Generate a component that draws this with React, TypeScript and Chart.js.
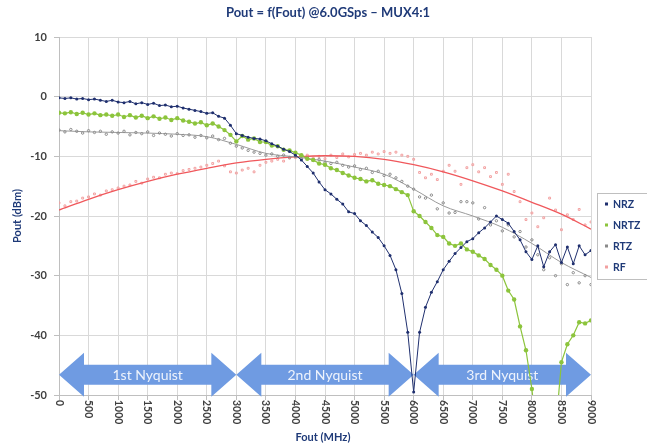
import React, { useEffect, useRef } from "react";
import { Chart, registerables } from "chart.js";

Chart.register(...registerables);

const TITLE = "Pout = f(Fout) @6.0GSps \u2013 MUX4:1";
const X_TITLE = "Fout (MHz)";
const Y_TITLE = "Pout (dBm)";
const SERIES_NAMES = ["NRZ", "NRTZ", "RTZ", "RF"];

const FREQ = [
  0, 100, 200, 300, 400, 500, 600, 700, 800, 900,
  1000, 1100, 1200, 1300, 1400, 1500, 1600, 1700, 1800, 1900,
  2000, 2100, 2200, 2300, 2400, 2500, 2600, 2700, 2800, 2900,
  3000, 3100, 3200, 3300, 3400, 3500, 3600, 3700, 3800, 3900,
  4000, 4100, 4200, 4300, 4400, 4500, 4600, 4700, 4800, 4900,
  5000, 5100, 5200, 5300, 5400, 5500, 5600, 5700, 5800, 5900,
  6000, 6100, 6200, 6300, 6400, 6500, 6600, 6700, 6800, 6900,
  7000, 7100, 7200, 7300, 7400, 7500, 7600, 7700, 7800, 7900,
  8000, 8100, 8200, 8300, 8400, 8500, 8600, 8700, 8800, 8900, 9000,
];

const NRZ = [
  -0.2, -0.3, -0.2, -0.4, -0.3, -0.5, -0.4, -0.6, -0.8, -0.6,
  -0.9, -1.0, -0.8, -1.2, -1.0, -1.3, -1.1, -1.5, -1.4, -1.7,
  -1.6, -1.9, -2.1, -2.3, -2.5, -2.8, -2.7, -3.3, -3.6, -4.8,
  -6.2, -6.5, -6.8, -7.0, -7.1, -7.4, -7.9, -8.3, -8.8, -9.2,
  -9.8, -10.6, -11.7, -12.8, -14.3, -15.6, -16.3, -17.2, -18.0, -19.3,
  -19.6, -20.8, -21.6, -22.7, -23.6, -25.0, -26.6, -29.0, -33.0, -39.5,
  -49.5, -39.5, -35.3, -32.8, -31.0, -29.0, -27.6, -26.3, -25.3, -24.3,
  -23.8, -22.8, -22.0, -21.0, -20.0, -20.6, -21.2, -22.6, -24.0, -26.0,
  -27.3, -25.0, -28.5, -26.0, -24.8, -27.8, -25.2, -28.0, -25.0, -26.5, -25.8,
];

const NRTZ = [
  -2.7, -2.8, -2.6, -2.9, -2.7, -3.0, -2.8, -3.1, -3.0, -3.2,
  -3.0, -3.4, -3.1, -3.5, -3.2, -3.6, -3.3, -3.7, -3.5, -3.9,
  -3.6, -4.0, -4.2, -4.5, -4.3, -4.8, -4.5, -5.0, -5.6, -6.4,
  -7.5, -6.6, -7.2, -7.0, -7.6, -7.6, -8.2, -8.3, -8.9, -9.0,
  -9.4, -9.8, -10.4, -10.6, -11.2, -11.4, -12.0, -12.3, -12.8, -13.2,
  -13.6, -13.8, -14.2, -14.0, -14.6, -14.8, -15.0, -15.5, -16.0, -16.5,
  -19.2, -20.0, -21.0, -22.0, -23.2, -23.5, -24.6, -25.0, -24.6, -25.6,
  -26.0, -26.6, -27.2, -28.2, -29.0, -30.0, -32.5, -34.0, -38.5, -42.5,
  -49.0, -58.0, -65.0, -65.0, -56.0, -44.5, -41.5, -40.0, -37.8, -38.0, -37.5,
];

const RTZ = [
  -5.6, -5.9, -5.5, -5.8, -6.1, -5.7, -6.0, -5.8, -6.3, -5.9,
  -6.1, -5.8, -6.4, -6.0, -6.2, -5.9, -6.5, -6.1, -6.3, -6.6,
  -6.2, -6.5, -6.4, -6.8, -6.5, -6.9, -6.6, -7.2, -7.0, -7.8,
  -8.3, -8.6, -9.0, -9.3, -9.5, -9.8, -9.6, -10.0, -9.8, -10.2,
  -10.0, -10.4, -10.3, -10.7, -10.5, -11.0, -11.2, -11.0, -11.5, -11.8,
  -11.6, -12.2, -12.0, -12.7, -12.5, -13.2, -13.0, -13.6, -14.2, -15.0,
  -15.5, -16.8, -17.0, -16.5, -18.8, -17.8, -19.5, -19.4, -17.6, -17.6,
  -17.8, -20.5, -18.6, -21.5, -20.8, -22.5, -21.5, -23.5, -22.6, -25.2,
  -24.0, -26.5, -29.0, -27.0, -30.0, -28.0, -31.5, -29.5, -31.2, -30.0, -31.5,
];

const RF = [
  -17.8, -18.3, -17.6, -17.5, -17.0, -16.8, -16.3, -16.5, -15.8, -15.6,
  -15.3, -15.0, -14.8, -14.2, -14.5, -13.8, -13.5, -13.6, -13.0, -12.8,
  -12.9, -12.4, -12.2, -12.0, -11.8, -11.5, -11.2, -10.8, -11.6, -12.6,
  -12.8, -12.3, -12.0, -12.6, -11.5, -11.0, -10.8, -10.5, -10.8, -10.3,
  -10.2, -10.0, -9.8, -10.3, -10.0, -10.4, -9.8, -10.2, -9.6, -10.1,
  -9.7, -9.5, -9.8, -9.3, -9.6, -9.2, -9.5, -9.3, -9.8, -10.0,
  -10.5, -12.7, -13.6, -13.0, -13.9, -12.5, -11.5, -12.5, -14.7, -11.9,
  -11.4, -12.6, -11.9, -13.4, -12.7, -14.7, -13.0, -15.9, -17.6, -20.6,
  -19.5, -21.8, -20.3, -17.0, -19.0, -22.3, -19.8, -20.6, -18.9, -21.5, -21.0,
];

const TREND_FREQ = [
  0, 500, 1000, 1500, 2000, 2500, 3000, 3500, 4000, 4500,
  5000, 5500, 6000, 6500, 7000, 7500, 8000, 8500, 9000,
];
const RTZ_TREND = [
  -5.7, -5.9, -6.0, -6.1, -6.3, -6.7, -8.0, -9.5, -10.1, -10.8,
  -11.8, -13.0, -15.5, -18.3, -20.0, -21.9, -24.6, -27.8, -30.3,
];
const RF_TREND = [
  -19.0, -17.2, -15.6, -14.2, -13.0, -12.0, -11.1, -10.5, -10.1, -9.9,
  -10.0, -10.5, -11.4, -12.6, -14.1, -15.8, -17.7, -19.7, -22.2,
];

const NYQUIST_BOUNDS = [0, 3000, 6000, 9000];
const NYQUIST_LABELS = ["1st Nyquist", "2nd Nyquist", "3rd Nyquist"];
const ARROW_LEVEL = -46.6;

const X_MIN = 0;
const X_MAX = 9000;
const X_STEP = 500;
const Y_MIN = -50;
const Y_MAX = 10;
const Y_STEP = 10;

const C_NRZ = "#1F2F6E";
const C_NRTZ = "#8CC43C";
const C_RTZ = "#8A8A8A";
const C_RF_PT = "#F2A0A0";
const C_RF_LINE = "#F0585C";
const C_NAVY = "#1F3A78";
const C_TICK = "#3F3F3F";
const C_ARROW = "#6F9BE2";
const FONT = "Lato, 'Open Sans', sans-serif";

const toXY = (xs: number[], ys: number[]) => xs.map((x, i) => ({ x, y: ys[i] }));

const overlay = {
  id: "overlay",
  beforeDatasetsDraw(chart: any) {
    const ctx = chart.ctx;
    const xs = chart.scales.x;
    const ys = chart.scales.y;
    const yc = ys.getPixelForValue(ARROW_LEVEL);
    const bodyH = 10;
    const headH = 22;
    const headL = 25;
    ctx.save();
    for (let i = 0; i < NYQUIST_LABELS.length; i++) {
      const x1 = xs.getPixelForValue(NYQUIST_BOUNDS[i]);
      const x2 = xs.getPixelForValue(NYQUIST_BOUNDS[i + 1]);
      ctx.beginPath();
      ctx.moveTo(x1, yc);
      ctx.lineTo(x1 + headL, yc - headH);
      ctx.lineTo(x1 + headL, yc - bodyH);
      ctx.lineTo(x2 - headL, yc - bodyH);
      ctx.lineTo(x2 - headL, yc - headH);
      ctx.lineTo(x2, yc);
      ctx.lineTo(x2 - headL, yc + headH);
      ctx.lineTo(x2 - headL, yc + bodyH);
      ctx.lineTo(x1 + headL, yc + bodyH);
      ctx.lineTo(x1 + headL, yc + headH);
      ctx.closePath();
      ctx.fillStyle = C_ARROW;
      ctx.fill();
      ctx.fillStyle = "#EEF3FC";
      ctx.font = `14px ${FONT}`;
      ctx.textAlign = "center";
      ctx.textBaseline = "middle";
      ctx.fillText(NYQUIST_LABELS[i], (x1 + x2) / 2, yc + 1);
    }
    ctx.restore();
  },
  afterDraw(chart: any) {
    const ctx = chart.ctx;
    const xs = chart.scales.x;
    const area = chart.chartArea;
    ctx.save();
    ctx.fillStyle = C_NAVY;
    ctx.font = `bold 13px ${FONT}`;
    ctx.textAlign = "center";
    ctx.textBaseline = "middle";
    ctx.fillText(TITLE, 328, 13);
    ctx.font = `bold 11px ${FONT}`;
    ctx.fillText(X_TITLE, (area.left + area.right) / 2 - 2, 437);
    ctx.save();
    ctx.translate(17, (area.top + area.bottom) / 2);
    ctx.rotate(-Math.PI / 2);
    ctx.fillText(Y_TITLE, 0, 0);
    ctx.restore();
    ctx.fillStyle = C_TICK;
    ctx.font = `bold 10.5px ${FONT}`;
    ctx.textAlign = "left";
    ctx.textBaseline = "middle";
    for (const t of xs.ticks) {
      const px = xs.getPixelForValue(t.value);
      ctx.save();
      ctx.translate(px, area.bottom + 5);
      ctx.rotate(Math.PI / 2);
      ctx.fillText(String(t.value), 0, 0);
      ctx.restore();
    }
    const lx = 597;
    const ly = 193;
    ctx.strokeStyle = "#BFBFBF";
    ctx.lineWidth = 1;
    ctx.strokeRect(lx + 0.5, ly + 0.5, 60, 86);
    const colors = [C_NRZ, C_NRTZ, C_RTZ, C_RF_PT];
    const rows = [204, 225, 246, 267];
    ctx.font = `bold 10.5px ${FONT}`;
    ctx.textAlign = "left";
    ctx.textBaseline = "middle";
    for (let i = 0; i < SERIES_NAMES.length; i++) {
      ctx.fillStyle = colors[i];
      ctx.fillRect(lx + 8, rows[i] - 1.5, 3, 3);
      ctx.fillStyle = C_NAVY;
      ctx.fillText(SERIES_NAMES[i], lx + 16, rows[i] + 0.5);
    }
    ctx.restore();
  },
};

export default function App() {
  const ref = useRef<HTMLCanvasElement | null>(null);
  useEffect(() => {
    if (!ref.current) return;
    const chart = new Chart(ref.current, {
      type: "scatter",
      data: {
        datasets: [
          {
            label: "RF trend",
            data: toXY(TREND_FREQ, RF_TREND),
            showLine: true,
            borderColor: C_RF_LINE,
            borderWidth: 1.3,
            pointRadius: 0,
            cubicInterpolationMode: "monotone",
            order: 5,
          },
          {
            label: "RF",
            data: toXY(FREQ, RF),
            showLine: false,
            pointRadius: 1.3,
            pointStyle: "rect",
            backgroundColor: "rgba(255,255,255,0)",
            borderColor: C_RF_PT,
            borderWidth: 1,
            order: 6,
          },
          {
            label: "RTZ trend",
            data: toXY(TREND_FREQ, RTZ_TREND),
            showLine: true,
            borderColor: "#9A9A9A",
            borderWidth: 1,
            pointRadius: 0,
            cubicInterpolationMode: "monotone",
            order: 4,
          },
          {
            label: "RTZ",
            data: toXY(FREQ, RTZ),
            showLine: false,
            pointRadius: 1.2,
            backgroundColor: "rgba(255,255,255,0)",
            borderColor: C_RTZ,
            borderWidth: 1,
            order: 3,
          },
          {
            label: "NRTZ",
            data: toXY(FREQ, NRTZ),
            showLine: true,
            borderColor: C_NRTZ,
            borderWidth: 1.2,
            pointRadius: 2.2,
            pointBackgroundColor: C_NRTZ,
            pointBorderWidth: 0,
            order: 2,
          },
          {
            label: "NRZ",
            data: toXY(FREQ, NRZ),
            showLine: true,
            borderColor: C_NRZ,
            borderWidth: 1,
            pointRadius: 1.5,
            pointBackgroundColor: C_NRZ,
            pointBorderWidth: 0,
            order: 1,
          },
        ],
      },
      options: {
        responsive: false,
        animation: false,
        events: [],
        layout: { padding: { top: 37, right: 56, left: 0, bottom: 0 } },
        plugins: {
          legend: { display: false },
          title: { display: false },
          tooltip: { enabled: false },
        },
        scales: {
          x: {
            type: "linear",
            min: X_MIN,
            max: X_MAX,
            ticks: { stepSize: X_STEP, display: false },
            grid: { color: "#D9D9D9", tickLength: 5, tickColor: "#BFBFBF" },
            border: { color: "#BFBFBF" },
            afterFit(scale: any) {
              scale.height = 51;
            },
          },
          y: {
            type: "linear",
            min: Y_MIN,
            max: Y_MAX,
            ticks: {
              stepSize: Y_STEP,
              padding: 7,
              color: C_TICK,
              font: { family: FONT, size: 11, weight: "bold" },
            },
            grid: { color: "#D9D9D9", tickLength: 5, tickColor: "#BFBFBF" },
            border: { color: "#BFBFBF" },
            afterFit(scale: any) {
              scale.width = 59;
            },
          },
        },
      },
      plugins: [overlay],
    });
    return () => chart.destroy();
  }, []);
  return (
    <div style={{ position: "absolute", left: 0, top: 0, width: 647, height: 446, background: "#fff" }}>
      <canvas ref={ref} width={647} height={446} />
    </div>
  );
}
